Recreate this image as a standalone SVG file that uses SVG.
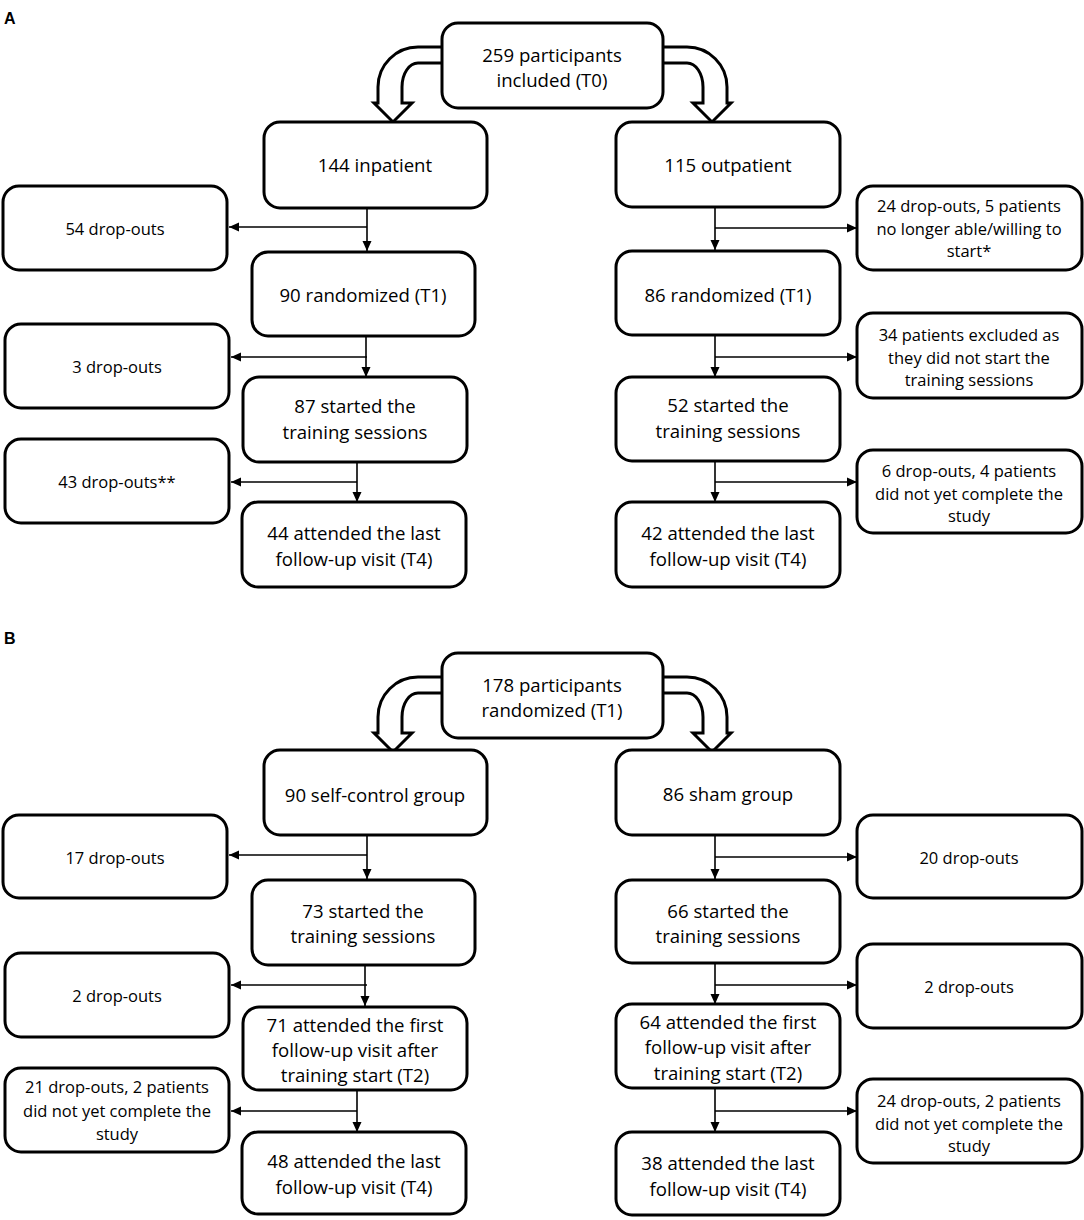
<svg xmlns="http://www.w3.org/2000/svg" width="1084" height="1220" viewBox="0 0 1084 1220">
<style>
.box{fill:#fff;stroke:#000;stroke-width:3}
.blk{fill:#fff;stroke:#000;stroke-width:3;stroke-linejoin:miter}
.ln{stroke:#000;stroke-width:1.6;fill:none}
text{font-family:"Open Sans","Liberation Sans",sans-serif;fill:#000;text-anchor:middle}
.m{font-size:18.6px}
.s{font-size:16.5px}
.lbl{font-family:"Liberation Sans",Arial,sans-serif;font-weight:bold;font-size:16px;text-anchor:start}
</style>
<defs>
<marker id="ah" viewBox="0 0 10 10" refX="10" refY="5" markerWidth="10" markerHeight="10" markerUnits="userSpaceOnUse" orient="auto">
<path d="M0,0.5 L10,5 L0,9.5 Z" fill="#000"/>
</marker>
<path id="carrow" d="M444,47 L418,47 A40,40 0 0 0 378,87 L378,103 L374,103 L393,122 L412,103 L402,103 L402,87 A16,24 0 0 1 418,63 L444,63"/>
</defs>
<rect width="1084" height="1220" fill="#fff"/>
<text class="lbl" x="4" y="24">A</text>
<text class="lbl" x="4" y="644">B</text>

<g id="connectors">
<use href="#carrow" class="blk"/>
<use href="#carrow" class="blk" transform="translate(1105,0) scale(-1,1)"/>
<use href="#carrow" class="blk" transform="translate(0,630)"/>
<use href="#carrow" class="blk" transform="translate(1105,630) scale(-1,1)"/>
<line class="ln" x1="367" y1="208" x2="367" y2="251" marker-end="url(#ah)"/>
<line class="ln" x1="367" y1="227" x2="229" y2="227" marker-end="url(#ah)"/>
<line class="ln" x1="366" y1="336" x2="366" y2="377" marker-end="url(#ah)"/>
<line class="ln" x1="367" y1="357" x2="231" y2="357" marker-end="url(#ah)"/>
<line class="ln" x1="357" y1="462" x2="357" y2="502" marker-end="url(#ah)"/>
<line class="ln" x1="357" y1="482" x2="231" y2="482" marker-end="url(#ah)"/>
<line class="ln" x1="715" y1="207" x2="715" y2="250" marker-end="url(#ah)"/>
<line class="ln" x1="715" y1="228" x2="857" y2="228" marker-end="url(#ah)"/>
<line class="ln" x1="715" y1="335" x2="715" y2="377" marker-end="url(#ah)"/>
<line class="ln" x1="715" y1="357" x2="857" y2="357" marker-end="url(#ah)"/>
<line class="ln" x1="715" y1="461" x2="715" y2="502" marker-end="url(#ah)"/>
<line class="ln" x1="715" y1="482" x2="857" y2="482" marker-end="url(#ah)"/>
<line class="ln" x1="367" y1="835" x2="367" y2="879" marker-end="url(#ah)"/>
<line class="ln" x1="367" y1="855" x2="229" y2="855" marker-end="url(#ah)"/>
<line class="ln" x1="365" y1="965" x2="365" y2="1006" marker-end="url(#ah)"/>
<line class="ln" x1="367" y1="985" x2="231" y2="985" marker-end="url(#ah)"/>
<line class="ln" x1="357" y1="1090" x2="357" y2="1132" marker-end="url(#ah)"/>
<line class="ln" x1="357" y1="1111" x2="231" y2="1111" marker-end="url(#ah)"/>
<line class="ln" x1="715" y1="835" x2="715" y2="879" marker-end="url(#ah)"/>
<line class="ln" x1="715" y1="857" x2="857" y2="857" marker-end="url(#ah)"/>
<line class="ln" x1="715" y1="963" x2="715" y2="1004" marker-end="url(#ah)"/>
<line class="ln" x1="715" y1="985" x2="857" y2="985" marker-end="url(#ah)"/>
<line class="ln" x1="715" y1="1088" x2="715" y2="1132" marker-end="url(#ah)"/>
<line class="ln" x1="715" y1="1111" x2="857" y2="1111" marker-end="url(#ah)"/>
</g>

<g id="a-t0"><rect class="box" x="442" y="23" width="221" height="85" rx="16"/><text class="m" x="552" y="62">259 participants</text><text class="m" x="552" y="87">included (T0)</text></g>
<g id="a-inpatient"><rect class="box" x="264" y="122" width="223" height="86" rx="16"/><text class="m" x="375" y="172">144 inpatient</text></g>
<g id="a-outpatient"><rect class="box" x="616" y="122" width="224" height="85" rx="16"/><text class="m" x="728" y="172">115 outpatient</text></g>
<g id="a-drop54"><rect class="box" x="3" y="186" width="224" height="84" rx="16"/><text class="s" x="115" y="235">54 drop-outs</text></g>
<g id="a-rand90"><rect class="box" x="252" y="252" width="223" height="84" rx="16"/><text class="m" x="363" y="302">90 randomized (T1)</text></g>
<g id="a-drop24"><rect class="box" x="857" y="186" width="225" height="84" rx="16"/><text class="s" x="969" y="212">24 drop-outs, 5 patients</text><text class="s" x="969" y="235">no longer able/willing to</text><text class="s" x="969" y="257">start*</text></g>
<g id="a-rand86"><rect class="box" x="616" y="251" width="224" height="84" rx="16"/><text class="m" x="728" y="302">86 randomized (T1)</text></g>
<g id="a-drop3"><rect class="box" x="5" y="324" width="224" height="84" rx="16"/><text class="s" x="117" y="373">3 drop-outs</text></g>
<g id="a-started87"><rect class="box" x="243" y="377" width="224" height="85" rx="16"/><text class="m" x="355" y="413">87 started the</text><text class="m" x="355" y="439">training sessions</text></g>
<g id="a-excl34"><rect class="box" x="857" y="313" width="225" height="85" rx="16"/><text class="s" x="969" y="341">34 patients excluded as</text><text class="s" x="969" y="364">they did not start the</text><text class="s" x="969" y="386">training sessions</text></g>
<g id="a-started52"><rect class="box" x="616" y="377" width="224" height="84" rx="16"/><text class="m" x="728" y="412">52 started the</text><text class="m" x="728" y="438">training sessions</text></g>
<g id="a-drop43"><rect class="box" x="5" y="439" width="224" height="84" rx="16"/><text class="s" x="117" y="488">43 drop-outs**</text></g>
<g id="a-attended44"><rect class="box" x="242" y="502" width="224" height="85" rx="16"/><text class="m" x="354" y="540">44 attended the last</text><text class="m" x="354" y="566">follow-up visit (T4)</text></g>
<g id="a-drop6"><rect class="box" x="857" y="450" width="225" height="83" rx="16"/><text class="s" x="969" y="477">6 drop-outs, 4 patients</text><text class="s" x="969" y="500">did not yet complete the</text><text class="s" x="969" y="522">study</text></g>
<g id="a-attended42"><rect class="box" x="616" y="502" width="224" height="85" rx="16"/><text class="m" x="728" y="540">42 attended the last</text><text class="m" x="728" y="566">follow-up visit (T4)</text></g>

<g id="b-t1"><rect class="box" x="442" y="653" width="221" height="85" rx="16"/><text class="m" x="552" y="692">178 participants</text><text class="m" x="552" y="717">randomized (T1)</text></g>
<g id="b-self"><rect class="box" x="264" y="750" width="223" height="85" rx="16"/><text class="m" x="375" y="802">90 self-control group</text></g>
<g id="b-sham"><rect class="box" x="616" y="750" width="224" height="85" rx="16"/><text class="m" x="728" y="801">86 sham group</text></g>
<g id="b-drop17"><rect class="box" x="3" y="815" width="224" height="83" rx="16"/><text class="s" x="115" y="864">17 drop-outs</text></g>
<g id="b-drop20"><rect class="box" x="857" y="815" width="225" height="83" rx="16"/><text class="s" x="969" y="864">20 drop-outs</text></g>
<g id="b-started73"><rect class="box" x="252" y="880" width="223" height="85" rx="16"/><text class="m" x="363" y="918">73 started the</text><text class="m" x="363" y="943">training sessions</text></g>
<g id="b-started66"><rect class="box" x="616" y="880" width="224" height="83" rx="16"/><text class="m" x="728" y="918">66 started the</text><text class="m" x="728" y="943">training sessions</text></g>
<g id="b-drop2l"><rect class="box" x="5" y="953" width="224" height="84" rx="16"/><text class="s" x="117" y="1002">2 drop-outs</text></g>
<g id="b-drop2r"><rect class="box" x="857" y="944" width="225" height="84" rx="16"/><text class="s" x="969" y="993">2 drop-outs</text></g>
<g id="b-first71"><rect class="box" x="243" y="1007" width="224" height="83" rx="16"/><text class="m" x="355" y="1032">71 attended the first</text><text class="m" x="355" y="1057">follow-up visit after</text><text class="m" x="355" y="1082">training start (T2)</text></g>
<g id="b-first64"><rect class="box" x="616" y="1004" width="224" height="84" rx="16"/><text class="m" x="728" y="1029">64 attended the first</text><text class="m" x="728" y="1054">follow-up visit after</text><text class="m" x="728" y="1080">training start (T2)</text></g>
<g id="b-drop21"><rect class="box" x="5" y="1068" width="224" height="84" rx="16"/><text class="s" x="117" y="1093">21 drop-outs, 2 patients</text><text class="s" x="117" y="1117">did not yet complete the</text><text class="s" x="117" y="1140">study</text></g>
<g id="b-drop24"><rect class="box" x="857" y="1079" width="225" height="84" rx="16"/><text class="s" x="969" y="1107">24 drop-outs, 2 patients</text><text class="s" x="969" y="1130">did not yet complete the</text><text class="s" x="969" y="1152">study</text></g>
<g id="b-last48"><rect class="box" x="242" y="1132" width="224" height="82" rx="16"/><text class="m" x="354" y="1168">48 attended the last</text><text class="m" x="354" y="1194">follow-up visit (T4)</text></g>
<g id="b-last38"><rect class="box" x="616" y="1132" width="224" height="83" rx="16"/><text class="m" x="728" y="1170">38 attended the last</text><text class="m" x="728" y="1196">follow-up visit (T4)</text></g>
</svg>
